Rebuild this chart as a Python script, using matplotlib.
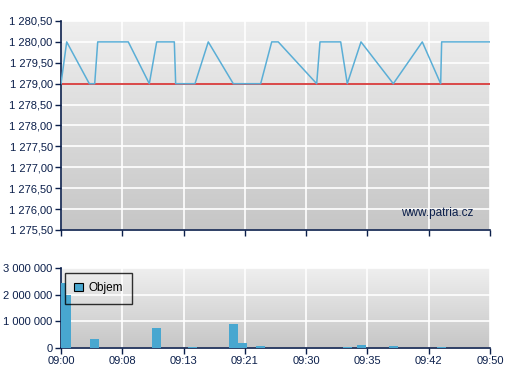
import numpy as np
import matplotlib
matplotlib.use("Agg")
import matplotlib.pyplot as plt
from matplotlib.ticker import FuncFormatter

# x positions are in "tick slots" (0 = 09:00 ... 7 = 09:50)
time_labels = ['09:00', '09:08', '09:13', '09:21', '09:30', '09:35', '09:42', '09:50']

price_x = [0, 0.093, 0.462, 0.550, 0.599, 1.098, 1.441, 1.561, 1.849, 1.871,
           2.186, 2.403, 2.811, 3.258, 3.438, 3.545, 4.172, 4.226, 4.564, 4.671,
           4.895, 5.422, 5.895, 6.195, 6.211, 7.0]
price = [1279, 1280, 1279, 1279, 1280, 1280, 1279, 1280, 1280, 1279,
         1279, 1280, 1279, 1279, 1280, 1280, 1279, 1280, 1280, 1279,
         1280, 1279, 1280, 1279, 1280, 1280]
prev_close = 1279.0

vol_x = [0, 0.085, 0.546, 1.558, 2.146, 2.811, 2.956, 3.255, 4.672, 4.904, 5.426, 6.209]
volume = [2440000, 1975000, 325000, 760000, 50000, 910000, 200000, 90000,
          50000, 125000, 90000, 50000]

navy = '#0b1f4b'
line_c = '#5aaed6'
bar_c = '#48a7d0'

plt.rcParams['font.family'] = ['Liberation Sans', 'DejaVu Sans']


def fmt_num(v, decimals):
    s = f'{v:,.{decimals}f}'
    return s.replace(',', ' ').replace('.', ',')


def gradient(ax):
    grad = np.linspace(0, 1, 256).reshape(-1, 1)
    cmap = matplotlib.colors.LinearSegmentedColormap.from_list('bg', ['#efefef', '#c6c6c6'])
    ax.imshow(grad, cmap=cmap, aspect='auto', extent=(0, 1, 0, 1),
              transform=ax.transAxes, zorder=0)


def style(ax):
    for s in ['top', 'right']:
        ax.spines[s].set_visible(False)
    for s in ['left', 'bottom']:
        ax.spines[s].set_color(navy)
        ax.spines[s].set_linewidth(1.2)
    ax.tick_params(colors=navy, labelsize=8, length=4.5, width=1, pad=1.5)
    ax.grid(True, color='white', linewidth=1.2)
    ax.set_axisbelow(True)
    ax.set_xlim(0, 7)
    ax.set_xticks(range(len(time_labels)))


fig = plt.figure(figsize=(5.07, 3.80), dpi=100)

ax1 = fig.add_axes([61 / 507, 150 / 380, 429 / 507, 209 / 380])
gradient(ax1)
style(ax1)
ax1.set_ylim(1275.5, 1280.5)
ax1.set_yticks(np.arange(1275.5, 1280.51, 0.5))
ax1.yaxis.set_major_formatter(FuncFormatter(lambda v, p: fmt_num(v, 2)))
ax1.set_xticklabels([])
ax1.axhline(prev_close, color='#d42a2a', linewidth=1.2, zorder=2)
ax1.plot(price_x, price, color=line_c, linewidth=1.1, zorder=3)
ax1.text(0.961, 0.08, 'www.patria.cz', transform=ax1.transAxes, ha='right',
         va='center', color=navy, fontsize=8.5, zorder=4)

ax2 = fig.add_axes([61 / 507, 32 / 380, 429 / 507, 80 / 380])
gradient(ax2)
style(ax2)
ax2.set_ylim(0, 3000000)
ax2.set_yticks([0, 1000000, 2000000, 3000000])
ax2.yaxis.set_major_formatter(FuncFormatter(lambda v, p: fmt_num(v, 0)))
ax2.set_xticklabels(time_labels)
ax2.bar(vol_x[::-1], volume[::-1], width=0.147, color=bar_c, zorder=3, label='Objem')
leg = ax2.legend(loc='upper left', bbox_to_anchor=(0.0093, 0.94), frameon=True,
                 fancybox=False, fontsize=8.5, handlelength=0.75, handleheight=0.75,
                 borderpad=0.8, handletextpad=0.4, borderaxespad=0)
leg.get_frame().set_edgecolor('black')
leg.get_frame().set_facecolor('none')
leg.get_frame().set_linewidth(1)
leg.set_zorder(5)
for h in leg.legend_handles:
    h.set_edgecolor('black')
    h.set_linewidth(0.8)

fig.savefig('out.png', dpi=100)
